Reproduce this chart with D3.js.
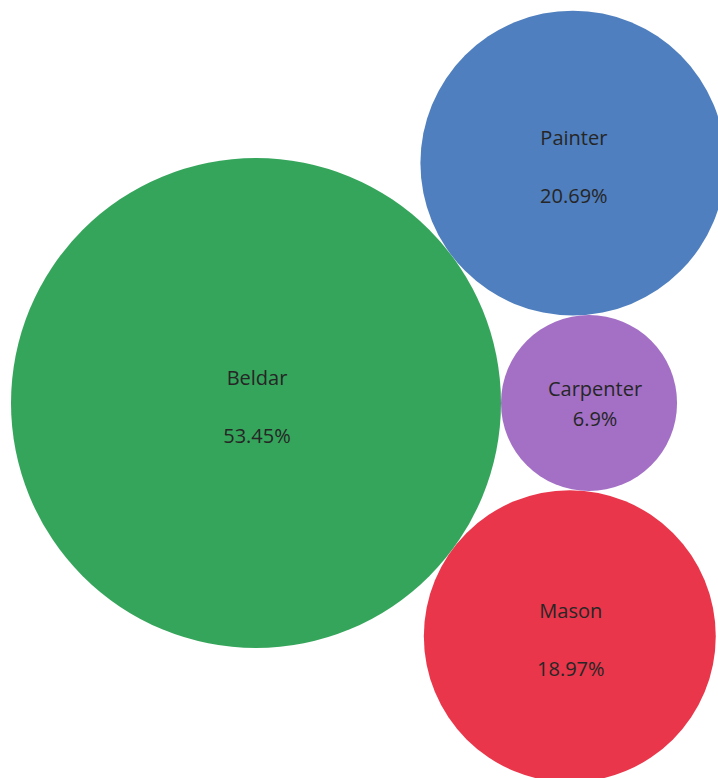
<!DOCTYPE html>
<html>
<head>
<meta charset="utf-8">
<script src="https://cdn.jsdelivr.net/npm/d3@7/dist/d3.min.js"></script>
<style>
  html, body { margin: 0; padding: 0; background: #fff; }
  svg { display: block; }
</style>
</head>
<body>
<svg id="chart" width="718" height="778"></svg>
<script>
// Share of workers by trade (%)
const trades = ["Beldar", "Painter", "Carpenter", "Mason"];
const shares = [53.45, 20.69, 6.9, 18.97];
const colors = ["#35a55b", "#4f7fbe", "#a370c6", "#e9364a"];

const width = 718, height = 778;
const svg = d3.select("#chart");

// Bubble area proportional to share
const r = d3.scaleSqrt().domain([0, d3.max(shares)]).range([0, 245]);

const nodes = trades.map((t, i) => ({ name: t, value: shares[i], color: colors[i], r: r(shares[i]) }));
const byName = Object.fromEntries(nodes.map(n => [n.name, n]));

// Place the largest bubble, then the smallest touching it on its right,
// then the two remaining bubbles tangent to both, above and below.
const big = byName["Beldar"], small = byName["Carpenter"];
big.x = 11 + big.r; big.y = 403;
small.x = big.x + big.r + small.r; small.y = big.y;

function tangentTo(a, b, n, side) {
  const d = Math.hypot(b.x - a.x, b.y - a.y);
  const ra = a.r + n.r, rb = b.r + n.r;
  const along = (ra * ra - rb * rb + d * d) / (2 * d);
  const h = Math.sqrt(Math.max(0, ra * ra - along * along));
  const ux = (b.x - a.x) / d, uy = (b.y - a.y) / d;
  n.x = a.x + ux * along - uy * h * side;
  n.y = a.y + uy * along + ux * h * side;
}
tangentTo(big, small, byName["Painter"], -1);
tangentTo(big, small, byName["Mason"], 1);

const g = svg.selectAll("g.bubble").data(nodes).join("g")
  .attr("class", "bubble")
  .attr("transform", d => `translate(${d.x},${d.y})`);

g.append("circle")
  .attr("r", d => d.r)
  .attr("fill", d => d.color);

const fmt = v => `${+v.toFixed(2)}%`;
// small bubbles keep their two label lines tight and nudged right
const isSmall = d => d.r < 120;

g.append("text")
  .attr("text-anchor", "middle")
  .attr("dx", d => isSmall(d) ? 6 : 1)
  .attr("dy", d => isSmall(d) ? -15 : -26)
  .attr("dominant-baseline", "central")
  .style("font-family", "'Open Sans', 'Noto Sans', sans-serif")
  .style("font-size", "20px")
  .attr("fill", "#262626")
  .text(d => d.name);

g.append("text")
  .attr("text-anchor", "middle")
  .attr("dx", d => isSmall(d) ? 6 : 1)
  .attr("dy", d => isSmall(d) ? 15 : 32)
  .attr("dominant-baseline", "central")
  .style("font-family", "'Open Sans', 'Noto Sans', sans-serif")
  .style("font-size", "20px")
  .attr("fill", "#262626")
  .text(d => fmt(d.value));
</script>
</body>
</html>
